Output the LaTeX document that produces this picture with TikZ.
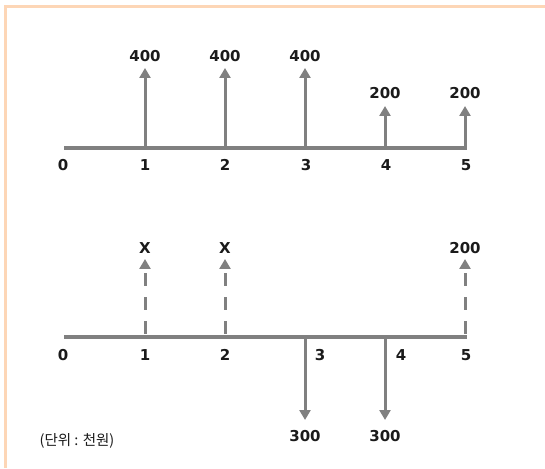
\documentclass[tikz,border=0pt]{standalone}
\usepackage{fontspec}
\setmainfont{DejaVu Sans}
\newfontfamily\krfont{Noto Sans CJK KR}
\usepackage{tikz}
\usetikzlibrary{arrows.meta,positioning}
\definecolor{axisgray}{HTML}{808080}
\definecolor{peach}{HTML}{FDD6B6}
\definecolor{inkc}{HTML}{1A1A1A}

\begin{document}
\begin{tikzpicture}[
  x=1pt,y=1pt,
  axis/.style={line width=4pt,draw=axisgray},
  flow/.style={-{Triangle[width=11pt,length=10pt]},line width=3pt,draw=axisgray},
  guess/.style={flow,dash pattern=on 13pt off 11pt,shorten <=3pt},
  val/.style={font=\fontsize{15}{17}\selectfont\bfseries,text=inkc,inner sep=0pt},
  note/.style={font=\krfont\fontsize{14.5}{16}\selectfont,text=inkc,inner sep=0pt}
]
\useasboundingbox (0,0) rectangle (545,468);
\draw[peach,line width=3.5pt] (5.5,0) -- (5.5,461.5) -- (545,461.5);

% upper time line
\foreach \i in {0,...,5} {
  \coordinate (a\i) at (65+80*\i,320);
}
\draw[axis,shorten <=-1pt,shorten >=-1.5pt] (a0) -- (a5);
\foreach \i/\x in {0/63,1/145,2/225,3/306,4/386,5/466} {
  \node[val] (ta\i) at (\x,303) {\i};
}
\coordinate (p1) at (145,400);
\coordinate (p2) at (225,400);
\coordinate (p3) at (305,400);
\coordinate (p4) at (385,362);
\coordinate (p5) at (465,362);
\draw[flow] (a1) -- (p1);
\draw[flow] (a2) -- (p2);
\draw[flow] (a3) -- (p3);
\draw[flow] (a4) -- (p4);
\draw[flow] (a5) -- (p5);
\node[val,above=6pt of p1] (v1) {400};
\node[val,above=6pt of p2] (v2) {400};
\node[val,above=6pt of p3] (v3) {400};
\node[val,above=7pt of p4] (v4) {200};
\node[val,above=7pt of p5] (v5) {200};

% lower time line
\foreach \i in {0,...,5} {
  \coordinate (b\i) at (65+80*\i,131);
}
\draw[axis,shorten <=-1pt,shorten >=-1.5pt] (b0) -- (b5);
\foreach \i/\x in {0/63,1/145,2/225,3/320,4/401,5/466} {
  \node[val] (tb\i) at (\x,113) {\i};
}
\coordinate (r1) at (145,209);
\coordinate (r2) at (225,209);
\coordinate (r5) at (465,209);
\coordinate (q3) at (305,48);
\coordinate (q4) at (385,48);
\draw[guess] (b1) -- (r1);
\draw[guess] (b2) -- (r2);
\draw[guess] (b5) -- (r5);
\draw[flow] (b3) -- (q3);
\draw[flow] (b4) -- (q4);
\node[val,above=5pt of r1] (w1) {X};
\node[val,above=5pt of r2] (w2) {X};
\node[val,above=5pt of r5] (w5) {200};
\node[val,below=10pt of q3] (w3) {300};
\node[val,below=10pt of q4] (w4) {300};

\node[note] (unit) at (77,27) {(단위 : 천원)};
\end{tikzpicture}
\end{document}
